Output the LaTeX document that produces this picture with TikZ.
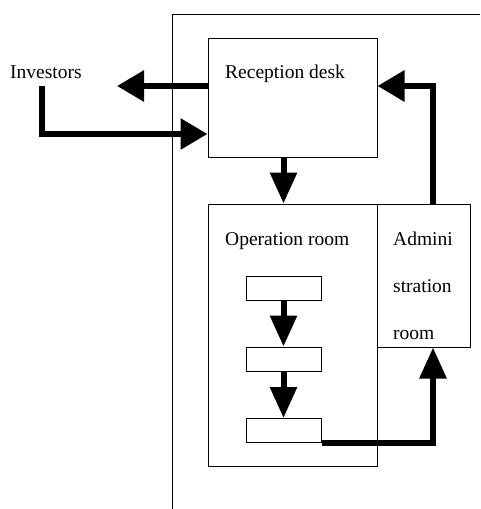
\documentclass[tikz,border=0pt]{standalone}
\usepackage{fontspec}
\setmainfont{Liberation Serif}
\usetikzlibrary{arrows.meta}
\begin{document}
\begin{tikzpicture}[x=1pt,y=-1pt,
  box/.style={draw,line width=1pt,inner sep=0pt,minimum width=#1},
  lbl/.style={inner sep=0pt,anchor=base west,font=\fontsize{19.5pt}{22pt}\selectfont},
  flow/.style={line width=6pt},
  harr/.style={flow,-{Triangle[length=27pt,width=30pt]}},
  varr/.style={flow,-{Triangle[length=31pt,width=26pt]}}]
\useasboundingbox (0,0) rectangle (480,509);
% outer frame
\coordinate (fb) at (172,509);
\coordinate (ft) at (172,14);
\coordinate (fr) at (480,14);
\draw[line width=1pt] (fb) -- (ft) -- (fr);
% boxes
\node[box=169pt,minimum height=119pt] (rd) at (292.5,97.5) {};
\node[box=169pt,minimum height=262pt] (op) at (292.5,335) {};
\node[box=93pt,minimum height=143pt] (ad) at (423.5,275.5) {};
\node[box=75pt,minimum height=24pt] (b1) at (283.5,288) {};
\node[box=75pt,minimum height=24pt] (b2) at (283.5,359) {};
\node[box=75pt,minimum height=24pt] (b3) at (283.5,430.5) {};
% labels
\node[lbl] (inv) at (10,78) {Investors};
\node[lbl] (rdt) at (225,78) {Reception desk};
\node[lbl] (opt) at (225,245) {Operation room};
\node[lbl] (ad1) at (393,245) {Admini};
\node[lbl] (ad2) at (393,292) {stration};
\node[lbl] (ad3) at (393,339) {room};
% coordinates
\coordinate (outtip) at (117,86);
\coordinate (invc) at (42,86);
\coordinate (invk) at (42,134);
\coordinate (adk) at (433,86);
\coordinate (b3k) at (433,443);
% arrows
\draw[harr] (rd.west |- outtip) -- (outtip);
\draw[harr] (invc) -- (invk) -- (rd.west |- invk);
\draw[varr] (rd.south -| b1) -- (op.north -| b1);
\draw[harr] (ad.north -| adk) -- (adk) -- (rd.east |- adk);
\draw[varr] (b1) ++(0,0) (b1.south) -- (b2.north);
\draw[varr] (b2.south) -- (b3.north);
\draw[varr] (b3.south east) -- (b3k) -- (ad.south -| b3k);
\end{tikzpicture}
\end{document}
